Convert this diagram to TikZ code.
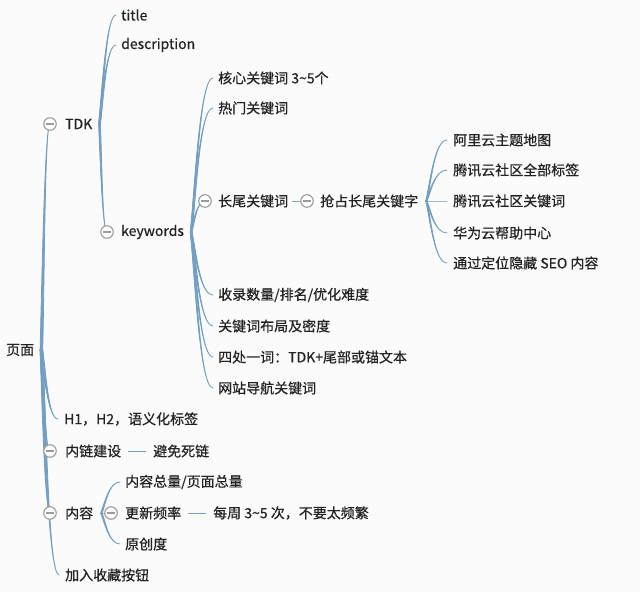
\documentclass[tikz,border=0pt]{standalone}
\usepackage{fontspec}
\setmainfont{Noto Sans CJK SC}[FakeBold=0.5]
\usetikzlibrary{calc,backgrounds}
\definecolor{bgc}{HTML}{FBFBFB}
\definecolor{brc}{HTML}{749FC3}
\definecolor{cgray}{HTML}{9B9B9B}
\definecolor{txt}{HTML}{222222}
\tikzset{
 lbl/.style={anchor=west, inner sep=0pt, text=txt, font=\fontsize{14pt}{16pt}\selectfont},
 coll/.style={circle, draw=cgray, fill=white, line width=1.1pt, minimum size=12.5pt, inner sep=0pt,
   path picture={\draw[cgray,line width=1.1pt] ([xshift=-3.6pt]path picture bounding box.center) -- ([xshift=3.6pt]path picture bounding box.center);}},
 br/.style={fill=brc, draw=brc, line width=0.8pt, line join=round},
 sline/.style={draw=brc, line width=1pt},
}
\newcommand\mmbranch[3]{%
 \path[br] let \p1=(#1), \p2=(#2) in
 (\x1-#3,\y1) .. controls ({\x1+0.2*(\x2-\x1)-#3},{\y1+0.3*(\y2-\y1)}) and ({\x1+0.4*(\x2-\x1)},\y2) .. (\x2,\y2)
 .. controls ({\x1+0.4*(\x2-\x1)},\y2) and ({\x1+0.2*(\x2-\x1)+#3},{\y1+0.3*(\y2-\y1)}) .. (\x1+#3,\y1) -- cycle;}
\begin{document}
\begin{tikzpicture}[x=1pt,y=-1pt]
\useasboundingbox (0,0) rectangle (640,592);
% nodes
\node[lbl] (root) at (6,350) {页面};
\node[coll] (ctdk) at (50,124) {};
\node[lbl] (tdk) at (65,124) {TDK};
\node[lbl] (title) at (121,15) {title};
\node[lbl] (desc) at (121,45) {description};
\node[coll] (ckw) at (107,232) {};
\node[lbl] (kw) at (121,232) {keywords};
\node[lbl] (k1) at (218,78) {核心关键词 3\textasciitilde5个};
\node[lbl] (k2) at (218,108) {热门关键词};
\node[coll] (clt) at (205,201) {};
\node[lbl] (lt) at (218,201) {长尾关键词};
\node[coll] (cqz) at (307,201) {};
\node[lbl] (qz) at (320,201) {抢占长尾关键字};
\node[lbl] (q1) at (453,140) {阿里云主题地图};
\node[lbl] (q2) at (453,170) {腾讯云社区全部标签};
\node[lbl] (q3) at (453,201) {腾讯云社区关键词};
\node[lbl] (q4) at (453,233) {华为云帮助中心};
\node[lbl] (q5) at (453,263) {通过定位隐藏 SEO 内容};
\node[lbl] (k4) at (218,295) {收录数量/排名/优化难度};
\node[lbl] (k5) at (218,326) {关键词布局及密度};
\node[lbl] (k6) at (218,357) {四处一词：TDK+尾部或锚文本};
\node[lbl] (k7) at (218,388) {网站导航关键词};
\node[lbl] (h1) at (64,419) {H1，H2，语义化标签};
\node[coll] (cnl) at (50,451) {};
\node[lbl] (nl) at (65,451) {内链建设};
\node[lbl] (bm) at (153,451) {避免死链};
\node[coll] (cnr) at (50,513) {};
\node[lbl] (nr) at (65,513) {内容};
\node[lbl] (n1) at (125,482) {内容总量/页面总量};
\node[coll] (cgx) at (111,513) {};
\node[lbl] (gx) at (125,513) {更新频率};
\node[lbl] (mz) at (213,513) {每周 3\textasciitilde5 次，不要太频繁};
\node[lbl] (n3) at (125,544) {原创度};
\node[lbl] (sc) at (65,575) {加入收藏按钮};
% anchors
\coordinate (rootR) at ([xshift=7pt]root.east);
\coordinate (tdkR) at ([xshift=7pt]tdk.east);
\coordinate (kwR) at ([xshift=7pt]kw.east);
\coordinate (qzR) at ([xshift=8pt]qz.east);
\coordinate (nrR) at ([xshift=8pt]nr.east);
\begin{pgfonlayer}{background}
\fill[bgc] (0,0) rectangle (640,592);
% root
\mmbranch{rootR}{ctdk.center}{1.3pt}
\mmbranch{rootR}{[xshift=-6pt]h1.west}{1.3pt}
\mmbranch{rootR}{cnl.center}{1.3pt}
\mmbranch{rootR}{cnr.center}{1.3pt}
\mmbranch{rootR}{[xshift=-6pt]sc.west}{1.3pt}
% TDK
\mmbranch{tdkR}{[xshift=-5pt]title.west}{0.9pt}
\mmbranch{tdkR}{[xshift=-5pt]desc.west}{0.9pt}
\mmbranch{tdkR}{ckw.center}{0.9pt}
% keywords
\mmbranch{kwR}{[xshift=-5pt]k1.west}{0.8pt}
\mmbranch{kwR}{[xshift=-5pt]k2.west}{0.8pt}
\mmbranch{kwR}{clt.center}{0.8pt}
\mmbranch{kwR}{[xshift=-5pt]k4.west}{0.8pt}
\mmbranch{kwR}{[xshift=-5pt]k5.west}{0.8pt}
\mmbranch{kwR}{[xshift=-5pt]k6.west}{0.8pt}
\mmbranch{kwR}{[xshift=-5pt]k7.west}{0.8pt}
\draw[sline] ([xshift=4pt]lt.east) -- (cqz);
% qz
\mmbranch{qzR}{[xshift=-6pt]q1.west}{0.6pt}
\mmbranch{qzR}{[xshift=-6pt]q2.west}{0.6pt}
\mmbranch{qzR}{[xshift=-6pt]q3.west}{0.6pt}
\mmbranch{qzR}{[xshift=-6pt]q4.west}{0.6pt}
\mmbranch{qzR}{[xshift=-6pt]q5.west}{0.6pt}
% nl
\draw[sline] ([xshift=7pt]nl.east) -- ([xshift=-7pt]bm.west);
% nr
\mmbranch{nrR}{[xshift=-5pt]n1.west}{0.7pt}
\mmbranch{nrR}{cgx.center}{0.7pt}
\mmbranch{nrR}{[xshift=-5pt]n3.west}{0.7pt}
\draw[sline] ([xshift=7pt]gx.east) -- ([xshift=-7pt]mz.west);
\end{pgfonlayer}
\end{tikzpicture}
\end{document}
